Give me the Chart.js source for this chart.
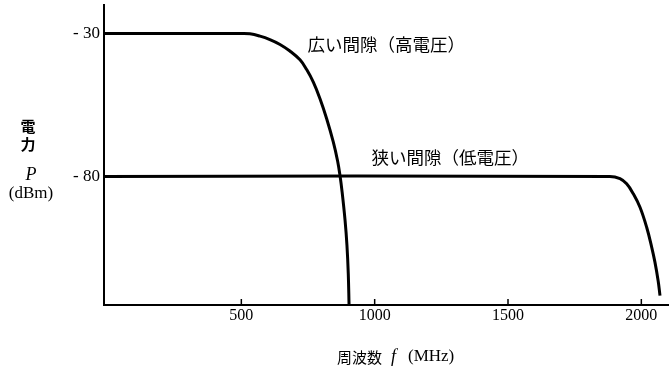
<!DOCTYPE html>
<html>
<head>
<meta charset="utf-8">
<script src="https://cdn.jsdelivr.net/npm/chart.js@4.4.0/dist/chart.umd.min.js"></script>
<style>
html,body{margin:0;padding:0;background:#fff;}
#wrap{width:671px;height:372px;position:relative;}
</style>
</head>
<body>
<div id="wrap"><canvas id="c" width="671" height="372"></canvas></div>
<script>
// Data
const xTickValues = [500, 1000, 1500, 2000];
const yTickValues = [-80, -30];
const yTickLabels = {'-30': '- 30', '-80': '- 80'};

const wideFreq  = [-15, 495, 532, 570, 607, 645, 682, 720, 745, 770, 795, 820, 845, 861, 870, 878, 889, 896, 901, 904];
const widePower = [-30, -30, -30.1, -30.9, -32.1, -33.8, -36.1, -39.2, -42.6, -47, -52.8, -59.8, -68, -74.6, -79.7, -85.5, -95.4, -104, -114, -125];

const narrowFreq  = [-15, 1882, 1920, 1945, 1970, 1995, 2020, 2039, 2051, 2063, 2070];
const narrowPower = [-80, -80, -80.8, -82.6, -86.1, -90.8, -97.8, -104.8, -110, -116.5, -121.7];

const wideLabel = '広い間隙（高電圧）';
const narrowLabel = '狭い間隙（低電圧）';
const wideLabelPos = [748, -33.6];
const narrowLabelPos = [988, -73.4];

const serif = '"Liberation Serif", "DejaVu Serif", serif';
const cjk = '"Noto Sans CJK JP", "Noto Sans CJK SC", sans-serif';

function pts(xs, ys){ return xs.map((x,i)=>({x:x, y:ys[i]})); }

const decor = {
  id:'decor',
  afterDraw(chart){
    const ctx = chart.ctx;
    const xs = chart.scales.x, ys = chart.scales.y;
    const ca = chart.chartArea;
    ctx.save();
    // upward x tick marks
    ctx.strokeStyle = '#000';
    ctx.lineWidth = 1.5;
    xTickValues.forEach(v=>{
      const px = xs.getPixelForValue(v);
      ctx.beginPath();
      ctx.moveTo(px, ca.bottom);
      ctx.lineTo(px, ca.bottom - 6);
      ctx.stroke();
    });
    // curve labels
    ctx.fillStyle = '#000';
    ctx.font = '17.5px ' + cjk;
    ctx.textBaseline = 'middle';
    ctx.textAlign = 'left';
    ctx.fillText(wideLabel, xs.getPixelForValue(wideLabelPos[0]), ys.getPixelForValue(wideLabelPos[1]));
    ctx.fillText(narrowLabel, xs.getPixelForValue(narrowLabelPos[0]), ys.getPixelForValue(narrowLabelPos[1]));
    // y-axis title
    ctx.textAlign = 'center';
    ctx.font = 'bold 15px ' + cjk;
    ctx.fillText('電', 28, 126);
    ctx.fillText('力', 28, 144);
    ctx.font = 'italic 18px ' + serif;
    ctx.fillText('P', 31, 175);
    ctx.font = '17px ' + serif;
    ctx.fillText('(dBm)', 31, 194);
    // x-axis title
    ctx.textAlign = 'left';
    ctx.font = '15px ' + cjk;
    ctx.fillText('周波数', 337, 357);
    ctx.font = 'italic 18px ' + serif;
    ctx.fillText('f', 391, 357);
    ctx.font = '17px ' + serif;
    ctx.fillText('(MHz)', 408, 357);
    ctx.restore();
  }
};

new Chart(document.getElementById('c'), {
  type:'line',
  data:{
    datasets:[
      {data: pts(wideFreq, widePower), borderColor:'#000', borderWidth:3, pointRadius:0, tension:0.4, fill:false},
      {data: pts(narrowFreq, narrowPower), borderColor:'#000', borderWidth:3, pointRadius:0, tension:0.4, fill:false}
    ]
  },
  options:{
    responsive:false,
    animation:false,
    events:[],
    layout:{padding:{left:0, right:3, top:5, bottom:0}},
    plugins:{legend:{display:false}, tooltip:{enabled:false}},
    scales:{
      x:{
        type:'linear', min:-15, max:2100,
        afterBuildTicks(s){ s.ticks = xTickValues.map(v=>({value:v})); },
        afterFit(s){ s.height = 67; },
        grid:{display:false, drawTicks:false},
        border:{display:true, color:'#000', width:2},
        ticks:{color:'#000', font:{family:serif, size:16}, padding:1, maxRotation:0, autoSkip:false, callback:(v)=>String(v)}
      },
      y:{
        type:'linear', min:-125, max:-20,
        afterBuildTicks(s){ s.ticks = yTickValues.map(v=>({value:v})); },
        afterFit(s){ s.width = 104; s.paddingTop = 0; s.paddingBottom = 0; },
        grid:{display:false, drawTicks:false},
        border:{display:true, color:'#000', width:2},
        ticks:{color:'#000', font:{family:serif, size:17}, padding:4, callback:(v)=>yTickLabels[String(v)]}
      }
    }
  },
  plugins:[decor]
});
</script>
</body>
</html>
